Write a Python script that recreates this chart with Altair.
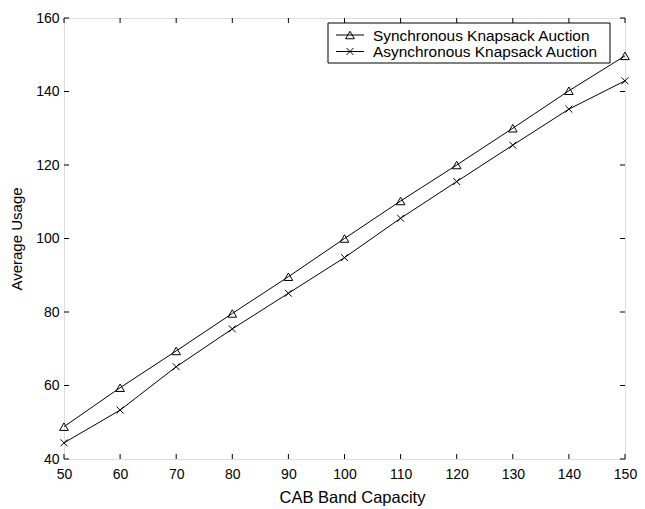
import altair as alt
import pandas as pd

# ---- data ----
capacity = [50, 60, 70, 80, 90, 100, 110, 120, 130, 140, 150]
sync_usage = [48.8, 59.4, 69.4, 79.6, 89.6, 100.0, 110.2, 120.0, 130.0, 140.2, 149.7]
async_usage = [44.4, 53.3, 65.1, 75.4, 85.1, 94.8, 105.5, 115.5, 125.4, 135.2, 142.9]
series_names = ["Synchronous Knapsack Auction", "Asynchronous Knapsack Auction"]
x_ticks = [50, 60, 70, 80, 90, 100, 110, 120, 130, 140, 150]
y_ticks = [40, 60, 80, 100, 120, 140, 160]

W, H = 561, 441
FONT = "Liberation Sans"
X_SHAPE = "M-0.8,-0.8L0.8,0.8M-0.8,0.8L0.8,-0.8"

df = pd.DataFrame(
    {"capacity": capacity * 2,
     "usage": sync_usage + async_usage,
     "series": [series_names[0]] * len(capacity) + [series_names[1]] * len(capacity)}
)

xs = alt.Scale(domain=[50, 150], nice=False, zero=False)
ys = alt.Scale(domain=[40, 160], nice=False, zero=False)
shape_scale = alt.Scale(domain=series_names, range=["triangle-up", X_SHAPE])

x_axis = alt.Axis(values=x_ticks, ticks=False, domain=False, grid=False, labelFlush=False,
                  labelFontSize=14, labelPadding=8, title="CAB Band Capacity",
                  titleFontSize=16.5, titleFontWeight="normal", titlePadding=8,
                  titleX=288,
                  labelFont=FONT, titleFont=FONT, labelColor="black", titleColor="black")
y_axis = alt.Axis(values=y_ticks, ticks=False, domain=False, grid=False, labelFlush=False,
                  labelFontSize=14, labelPadding=5, title="Average Usage",
                  titleFontSize=15, titleFontWeight="normal", titlePadding=11,
                  labelFont=FONT, titleFont=FONT, labelColor="black", titleColor="black")

lines = alt.Chart(df).mark_line(color="black", strokeWidth=1).encode(
    x=alt.X("capacity:Q", scale=xs, axis=x_axis),
    y=alt.Y("usage:Q", scale=ys, axis=y_axis),
    detail="series:N",
)
points = alt.Chart(df).mark_point(filled=False, color="black", strokeWidth=1, size=75, opacity=1).encode(
    x=alt.X("capacity:Q", scale=xs),
    y=alt.Y("usage:Q", scale=ys),
    shape=alt.Shape("series:N", scale=shape_scale, legend=None),
)

xt = pd.DataFrame({"t": x_ticks})
yt = pd.DataFrame({"t": y_ticks})
TL = 5
bottom_ticks = alt.Chart(xt).mark_rule(color="black", strokeWidth=1).encode(
    x=alt.X("t:Q", scale=xs), y=alt.value(H), y2=alt.value(H - TL))
top_ticks = alt.Chart(xt).mark_rule(color="black", strokeWidth=1).encode(
    x=alt.X("t:Q", scale=xs), y=alt.value(0), y2=alt.value(TL))
left_ticks = alt.Chart(yt).mark_rule(color="black", strokeWidth=1).encode(
    y=alt.Y("t:Q", scale=ys), x=alt.value(0), x2=alt.value(TL))
right_ticks = alt.Chart(yt).mark_rule(color="black", strokeWidth=1).encode(
    y=alt.Y("t:Q", scale=ys), x=alt.value(W), x2=alt.value(W - TL))

# ---- legend box (drawn as marks) ----
box = alt.Chart(pd.DataFrame({"k": [0]})).mark_rect(fill="white", stroke="black", strokeWidth=1).encode(
    x=alt.value(264), x2=alt.value(546), y=alt.value(5), y2=alt.value(45))

legend_layers = []
row_y = [17, 33.5]
for name, ry, shp in zip(series_names, row_y, ["triangle-up", X_SHAPE]):
    d = pd.DataFrame({"series": [name]})
    legend_layers.append(alt.Chart(d).mark_rule(color="black", strokeWidth=1).encode(
        x=alt.value(272), x2=alt.value(300), y=alt.value(ry)))
    legend_layers.append(alt.Chart(d).mark_point(filled=False, color="black", strokeWidth=1,
                                                 size=75, shape=shp, opacity=1).encode(
        x=alt.value(286), y=alt.value(ry)))
    legend_layers.append(alt.Chart(d).mark_text(align="left", baseline="middle", font=FONT,
                                                fontSize=15.4, color="black").encode(
        x=alt.value(309), y=alt.value(ry + 0.5), text="series:N"))

chart = alt.layer(
    lines, points, bottom_ticks, top_ticks, left_ticks, right_ticks, box, *legend_layers
).properties(
    width=W, height=H,
    autosize=alt.AutoSizeParams(type="none"),
    padding={"left": 56, "top": 10, "right": 12, "bottom": 50},
).configure_view(stroke="black", strokeWidth=1).configure(background="white")

chart.save("out.html", embed_options={"renderer": "svg", "actions": False})
